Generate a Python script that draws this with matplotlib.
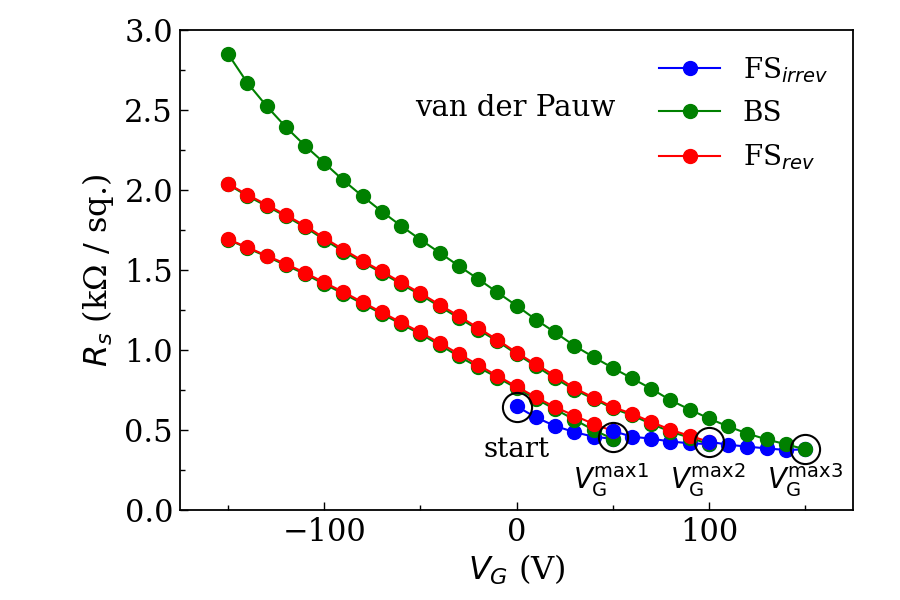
import matplotlib
matplotlib.use("Agg")
import matplotlib.pyplot as plt

plt.rcParams['font.family'] = ['DejaVu Serif']
plt.rcParams['mathtext.fontset'] = 'dejavusans'

# loop 1
fs_irrev_1_x = [0, 10, 20, 30, 40, 50]
fs_irrev_1_y = [0.648, 0.579, 0.525, 0.487, 0.458, 0.445]
bs_1_x = [50, 40, 30, 20, 10, 0, -10, -20, -30, -40, -50, -60, -70, -80, -90, -100,
          -110, -120, -130, -140, -150]
bs_1_y = [0.445, 0.500, 0.565, 0.630, 0.695, 0.762, 0.828, 0.893, 0.960, 1.032, 1.100,
          1.162, 1.226, 1.289, 1.352, 1.412, 1.475, 1.530, 1.585, 1.637, 1.690]
fs_rev_1_x = [-150, -140, -130, -120, -110, -100, -90, -80, -70, -60, -50, -40, -30,
              -20, -10, 0, 10, 20, 30, 40, 50]
fs_rev_1_y = [1.692, 1.642, 1.590, 1.538, 1.483, 1.422, 1.362, 1.298, 1.235, 1.172, 1.110,
              1.044, 0.975, 0.907, 0.838, 0.772, 0.705, 0.643, 0.590, 0.538, 0.494]

# loop 2
fs_irrev_2_x = [50, 60, 70, 80, 90, 100]
fs_irrev_2_y = [0.494, 0.458, 0.446, 0.428, 0.417, 0.412]
bs_2_x = [100, 90, 80, 70, 60, 50, 40, 30, 20, 10, 0, -10, -20, -30, -40, -50, -60,
          -70, -80, -90, -100, -110, -120, -130, -140, -150]
bs_2_y = [0.412, 0.452, 0.490, 0.538, 0.592, 0.635, 0.695, 0.752, 0.823, 0.900, 0.975,
          1.055, 1.128, 1.200, 1.272, 1.345, 1.412, 1.482, 1.548, 1.615, 1.690, 1.768,
          1.836, 1.900, 1.963, 2.035]
fs_rev_2_x = [-150, -140, -130, -120, -110, -100, -90, -80, -70, -60, -50, -40, -30,
              -20, -10, 0, 10, 20, 30, 40, 50, 60, 70, 80, 90, 100]
fs_rev_2_y = [2.038, 1.971, 1.908, 1.844, 1.777, 1.700, 1.628, 1.557, 1.491, 1.422,
              1.355, 1.283, 1.212, 1.138, 1.064, 0.984, 0.910, 0.840, 0.762, 0.703,
              0.643, 0.602, 0.550, 0.502, 0.463, 0.427]

# loop 3
fs_irrev_3_x = [100, 110, 120, 130, 140, 150]
fs_irrev_3_y = [0.427, 0.408, 0.396, 0.385, 0.375, 0.379]
bs_3_x = [150, 140, 130, 120, 110, 100, 90, 80, 70, 60, 50, 40, 30, 20, 10, 0, -10,
          -20, -30, -40, -50, -60, -70, -80, -90, -100, -110, -120, -130, -140, -150]
bs_3_y = [0.379, 0.411, 0.441, 0.478, 0.522, 0.572, 0.628, 0.686, 0.758, 0.823, 0.888,
          0.956, 1.027, 1.110, 1.190, 1.277, 1.360, 1.444, 1.525, 1.608, 1.690, 1.775,
          1.865, 1.960, 2.060, 2.169, 2.277, 2.394, 2.525, 2.670, 2.850]

# highlighted points
circle_x = [0, 50, 100, 150]
circle_y = [0.646, 0.458, 0.425, 0.383]
annot_texts = ['start', r'$V_\mathrm{G}^\mathrm{max1}$', r'$V_\mathrm{G}^\mathrm{max2}$',
               r'$V_\mathrm{G}^\mathrm{max3}$']
annot_x = [0, 49, 99.5, 150]
annot_y = [0.38, 0.185, 0.185, 0.185]

BLUE = '#0000ff'
GREEN = '#008000'
RED = '#ff0000'

fig = plt.figure(figsize=(9, 6), dpi=100)
ax = fig.add_axes([0.2, 0.15, 0.748, 0.8])

kw = dict(marker='o', markersize=10, linewidth=1.5)
segments = [
    (fs_irrev_1_x, fs_irrev_1_y, BLUE, r'FS$_{irrev}$'),
    (bs_1_x, bs_1_y, GREEN, 'BS'),
    (fs_rev_1_x, fs_rev_1_y, RED, r'FS$_{rev}$'),
    (fs_irrev_2_x, fs_irrev_2_y, BLUE, None),
    (bs_2_x, bs_2_y, GREEN, None),
    (fs_rev_2_x, fs_rev_2_y, RED, None),
    (fs_irrev_3_x, fs_irrev_3_y, BLUE, None),
    (bs_3_x, bs_3_y, GREEN, None),
]
for xs, ys, c, lab in segments:
    ax.plot(xs, ys, color=c, label=lab, **kw)

ax.plot(circle_x, circle_y, linestyle='none', marker='o', markersize=21,
        markerfacecolor='none', markeredgecolor='black', markeredgewidth=1.5, zorder=5)

for t, xx, yy in zip(annot_texts, annot_x, annot_y):
    ax.text(xx, yy, t, ha='center', va='center', fontsize=20)

ax.text(-0.5, 2.51, 'van der Pauw', ha='center', va='center', fontsize=21)

ax.set_xlim(-175, 175)
ax.set_ylim(0, 3.0)
ax.set_xticks([-100, 0, 100])
ax.set_xticks([-150, -50, 50, 150], minor=True)
ax.set_yticks([0.0, 0.5, 1.0, 1.5, 2.0, 2.5, 3.0])
ax.set_yticks([0.25, 0.75, 1.25, 1.75, 2.25, 2.75], minor=True)
ax.tick_params(which='both', direction='in', labelsize=22)
ax.tick_params(which='major', length=6, width=1, pad=5)
ax.tick_params(which='minor', length=3.5, width=1)
for s in ax.spines.values():
    s.set_linewidth(1.3)

ax.set_xlabel(r'$V_G$ (V)', fontsize=23, labelpad=3)
ax.set_ylabel(r'$R_s$ (kΩ / sq.)', fontsize=23, labelpad=6)

ax.legend(loc='upper right', frameon=False, fontsize=20, handlelength=2.2,
          handletextpad=0.8, labelspacing=0.55, borderaxespad=0.5)

fig.savefig('out.png', dpi=100)
